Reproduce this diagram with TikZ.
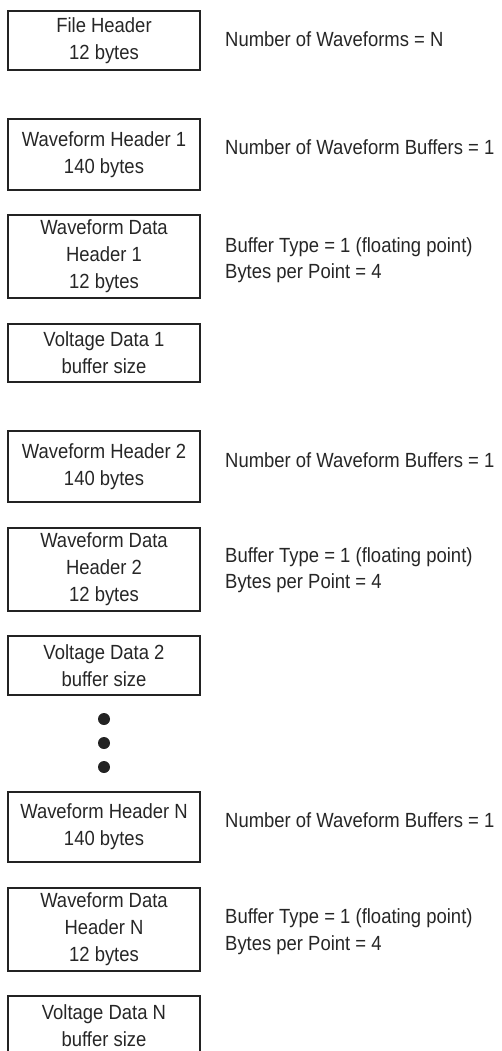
\documentclass[tikz,border=0pt]{standalone}
\usepackage{fontspec}
\setmainfont{Liberation Sans}[FakeStretch=0.9]
\definecolor{linegray}{HTML}{232323}
\definecolor{textgray}{HTML}{262626}
\begin{document}
\begin{tikzpicture}[x=1pt,y=-1pt,
  box/.style={draw=linegray, line width=2pt, minimum width=192pt, inner sep=0pt,
    align=center, text=textgray, font=\fontsize{20.5}{27}\selectfont},
  lbl/.style={anchor=base west, inner sep=0pt, text=textgray,
    font=\fontsize{20.5}{27}\selectfont},
  bdot/.style={circle, fill=linegray, minimum size=12pt, inner sep=0pt}]
\useasboundingbox (0,0) rectangle (501,1051);
\clip (0,0) rectangle (501,1051);
% boxes
\node[box, minimum height=59pt] (fh) at (104,40.5) {File Header\\12 bytes};
\node[box, minimum height=71pt] (wh1) at (104,154.5) {Waveform Header 1\\140 bytes};
\node[box, minimum height=83pt] (wdh1) at (104,256.5) {Waveform Data\\Header 1\\12 bytes};
\node[box, minimum height=58pt] (vd1) at (104,353) {Voltage Data 1\\buffer size};
\node[box, minimum height=71pt] (wh2) at (104,466.5) {Waveform Header 2\\140 bytes};
\node[box, minimum height=83pt] (wdh2) at (104,569.5) {Waveform Data\\Header 2\\12 bytes};
\node[box, minimum height=59pt] (vd2) at (104,665.5) {Voltage Data 2\\buffer size};
\node[bdot] (d1) at (104,719) {};
\node[bdot] (d2) at (104,743) {};
\node[bdot] (d3) at (104,767) {};
\node[box, minimum height=70pt] (whn) at (104,827) {Waveform Header N\\140 bytes};
\node[box, minimum height=83pt] (wdhn) at (104,929.5) {Waveform Data\\Header N\\12 bytes};
\node[box, minimum height=59pt] (vdn) at (104,1025.5) {Voltage Data N\\buffer size};
% labels
\node[lbl] (l1) at (225,47) {Number of Waveforms = N};
\node[lbl] (l2) at (225,155) {Number of Waveform Buffers = 1};
\node[lbl] (l3a) at (225,252) {Buffer Type = 1 (floating point)};
\node[lbl] (l3b) at (225,278) {Bytes per Point = 4};
\node[lbl] (l4) at (225,467) {Number of Waveform Buffers = 1};
\node[lbl] (l5a) at (225,562) {Buffer Type = 1 (floating point)};
\node[lbl] (l5b) at (225,588) {Bytes per Point = 4};
\node[lbl] (l6) at (225,827) {Number of Waveform Buffers = 1};
\node[lbl] (l7a) at (225,923) {Buffer Type = 1 (floating point)};
\node[lbl] (l7b) at (225,950) {Bytes per Point = 4};
\end{tikzpicture}
\end{document}
